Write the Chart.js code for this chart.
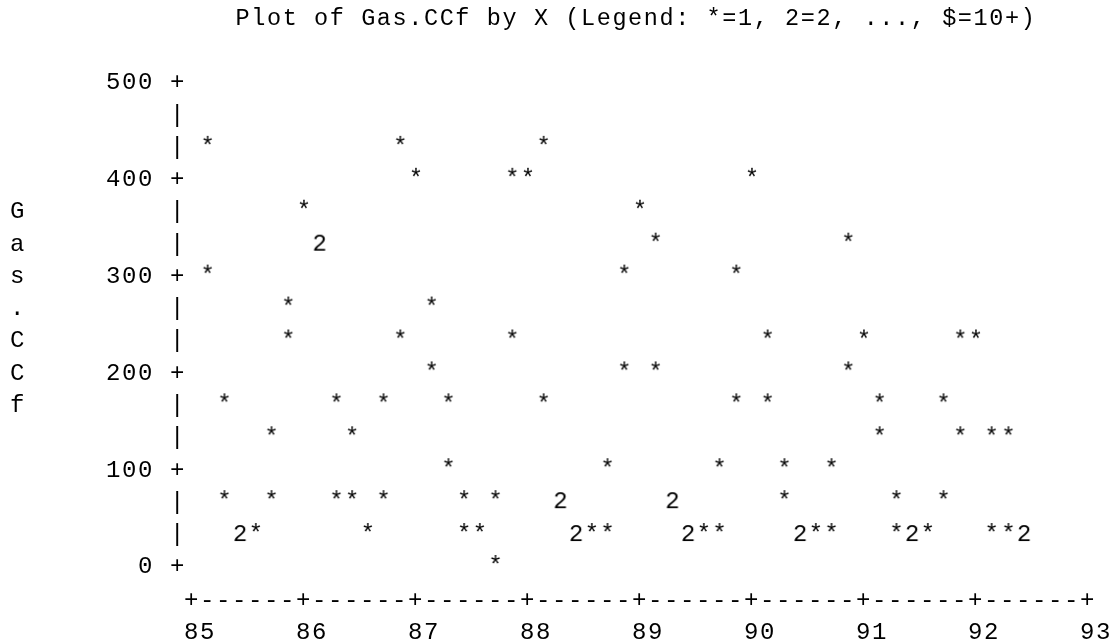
<!DOCTYPE html>
<html>
<head>
<meta charset="utf-8">
<title>Plot of Gas.CCf by X</title>
<script src="https://cdn.jsdelivr.net/npm/chart.js"></script>
<style>
  html, body { margin: 0; padding: 0; background: #fff; overflow: hidden; }
  .chart-box { position: relative; width: 1114px; height: 642px; }
</style>
</head>
<body>
<div class="chart-box"><canvas id="gasChart"></canvas></div>
<script>
// Axis labels
const xYears = [85, 86, 87, 88, 89, 90, 91, 92, 93];
const yMajor = [500, 400, 300, 200, 100, 0];
const yTitle = 'Gas.CCf';
const titleText = 'Plot of Gas.CCf by X (Legend: *=1, 2=2, ..., $=10+)';

// Cells holding one observation ("*")
const singleX = [
    85.14, 86.86, 88.14,
    87.00, 87.86, 88.00, 90.00,
    86.00, 89.00,
    89.14, 90.86,
    85.14, 88.86, 89.86,
    85.86, 87.14,
    85.86, 86.86, 87.86, 90.14, 91.00, 91.86, 92.00,
    87.14, 88.86, 89.14, 90.86,
    85.29, 86.29, 86.71, 87.29, 88.14, 89.86, 90.14, 91.14, 91.71,
    85.71, 86.43, 91.14, 91.86, 92.14, 92.29,
    87.29, 88.71, 89.71, 90.29, 90.71,
    85.29, 85.71, 86.29, 86.43, 86.71, 87.43, 87.71, 90.29, 91.29, 91.71,
    85.57, 86.57, 87.43, 87.57, 88.57, 88.71, 89.57, 89.71, 90.57, 90.71, 91.29, 91.57, 92.14, 92.29,
    87.71
];
const singleY = [
    433, 433, 433,
    400, 400, 400, 400,
    367, 367,
    333, 333,
    300, 300, 300,
    267, 267,
    233, 233, 233, 233, 233, 233, 233,
    200, 200, 200, 200,
    167, 167, 167, 167, 167, 167, 167, 167, 167,
    133, 133, 133, 133, 133, 133,
    100, 100, 100, 100, 100,
    67, 67, 67, 67, 67, 67, 67, 67, 67, 67,
    33, 33, 33, 33, 33, 33, 33, 33, 33, 33, 33, 33, 33, 33,
    0
];

// Cells holding two observations ("2")
const doubleX = [86.14, 88.29, 89.29, 85.43, 88.43, 89.43, 90.43, 91.43, 92.43];
const doubleY = [333, 67, 67, 33, 33, 33, 33, 33, 33];

const MONO = "'Liberation Mono', 'Courier New', monospace";
const COLS_PER_YEAR = 7;   // printer columns between x tick marks
const ROWS_PER_STEP = 3;   // printer rows between y tick marks
const TITLE_ROW = 4;       // first row of the vertical axis title

// draw a plotting symbol onto a small canvas, used as the point style
function glyph(ch) {
    const c = document.createElement('canvas');
    c.width = 16;
    c.height = 32;
    const g = c.getContext('2d');
    g.font = '24px ' + MONO;
    g.textAlign = 'center';
    g.textBaseline = 'middle';
    g.fillStyle = '#000';
    g.fillText(ch, 8, 16);
    return c;
}

// widen the mono font to the 16px printer cell
const printerSpacing = {
    id: 'printerSpacing',
    beforeLayout(chart) { chart.ctx.letterSpacing = '1.6px'; },
    beforeDraw(chart) { chart.ctx.letterSpacing = '1.6px'; }
};

const tickFont = { family: MONO, size: 24, lineHeight: '32.3px' };

const ctx = document.getElementById('gasChart').getContext('2d');
const chart = new Chart(ctx, {
    type: 'scatter',
    data: {
        datasets: [
            {
                label: '*',
                data: singleX.map((x, i) => ({ x: x, y: singleY[i] })),
                pointStyle: glyph('*'),
                pointRadius: 8,
                clip: false
            },
            {
                label: '2',
                data: doubleX.map((x, i) => ({ x: x, y: doubleY[i] })),
                pointStyle: glyph('2'),
                pointRadius: 8,
                clip: false
            }
        ]
    },
    plugins: [printerSpacing],
    options: {
        responsive: true,
        maintainAspectRatio: false,
        animation: false,
        layout: { padding: { left: 0, right: 26, top: 0, bottom: 0 } },
        plugins: {
            legend: { display: false },
            tooltip: { enabled: false },
            title: {
                display: true,
                align: 'start',
                text: ' '.repeat(15) + titleText,
                color: '#000',
                font: { family: MONO, size: 23.5, weight: 'normal', lineHeight: '32px' },
                padding: { top: 3, bottom: 48 }
            }
        },
        scales: {
            x: {
                type: 'linear',
                min: xYears[0],
                max: xYears[xYears.length - 1],
                afterBuildTicks(scale) {
                    const n = (xYears.length - 1) * COLS_PER_YEAR;
                    scale.ticks = [];
                    for (let i = 0; i <= n; i++) {
                        scale.ticks.push({ value: xYears[0] + i / COLS_PER_YEAR });
                    }
                },
                afterFit(scale) {
                    scale.height = 75;
                    scale.paddingLeft = 0;
                    scale.paddingRight = 0;
                },
                grid: { display: false, drawTicks: false },
                border: { display: false },
                ticks: {
                    autoSkip: false,
                    maxRotation: 0,
                    minRotation: 0,
                    padding: 17,
                    color: '#000',
                    font: tickFont,
                    callback(value, index) {
                        if (index % COLS_PER_YEAR) return ['-', ''];
                        return ['+', ' ' + xYears[index / COLS_PER_YEAR]];
                    }
                }
            },
            y: {
                min: yMajor[yMajor.length - 1],
                max: yMajor[0],
                afterBuildTicks(scale) {
                    const rows = (yMajor.length - 1) * ROWS_PER_STEP;
                    const step = (yMajor[0] - yMajor[yMajor.length - 1]) / rows;
                    scale.ticks = [];
                    for (let i = 0; i <= rows; i++) {
                        scale.ticks.push({ value: yMajor[0] - i * step });
                    }
                },
                afterFit(scale) { scale.width = 192; },
                grid: { display: false, drawTicks: false },
                border: { display: false },
                ticks: {
                    autoSkip: false,
                    padding: 6,
                    color: '#000',
                    font: tickFont,
                    // "500 +" on major rows, "|" between, title letters down the margin
                    callback(value, index) {
                        const right = index % ROWS_PER_STEP === 0
                            ? yMajor[index / ROWS_PER_STEP] + ' +'
                            : '|';
                        const letter = yTitle[index - TITLE_ROW] || ' ';
                        return letter + right.padStart(10);
                    }
                }
            }
        }
    }
});
</script>
</body>
</html>
